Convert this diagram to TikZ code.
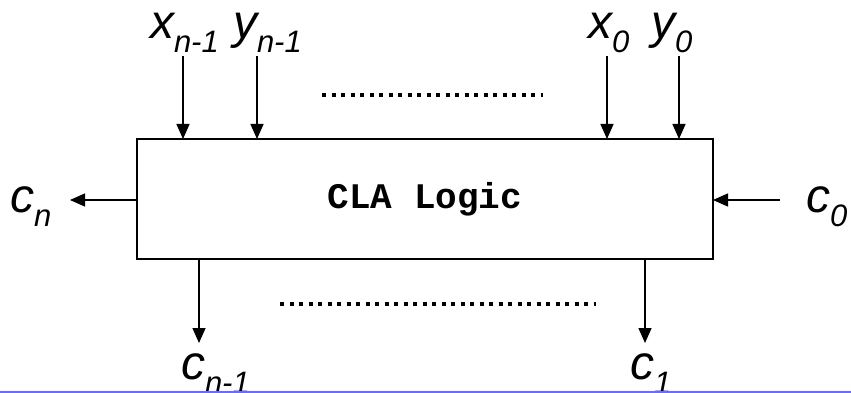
\documentclass[tikz,border=0pt]{standalone}
\usepackage{fontspec}
\setmainfont{Liberation Sans}
\newfontfamily\monofnt{Liberation Mono}
\usetikzlibrary{arrows.meta}
\newcommand\lbl[2]{{\fontsize{48}{48}\selectfont\itshape #1}\raisebox{-14pt}{\fontsize{31}{31}\selectfont\itshape #2}}
\definecolor{rule}{HTML}{6B6BFF}
\tikzset{
  arr/.style={line width=1.4pt,-{Triangle[length=15pt,width=13pt]}},
  boxstyle/.style={draw,line width=2pt,minimum width=576pt,minimum height=120pt,inner sep=0pt,outer sep=0pt},
  lab/.style={anchor=base west,inner sep=0pt,outer sep=0pt},
  dots/.style={line width=4pt,dash pattern=on 4pt off 5.5pt}
}
\begin{document}
\begin{tikzpicture}[x=1pt,y=-1pt]
\useasboundingbox (0,0) rectangle (851,393);
\node[boxstyle] (box) at (425,199) {\monofnt\bfseries\fontsize{36}{36}\selectfont CLA Logic};
% top labels
\node[lab] (lxn) at (150,39) {\lbl{x}{n-1}};
\node[lab] (lyn) at (233,39) {\lbl{y}{n-1}};
\node[lab] (lx0) at (588,39) {\lbl{x}{0}};
\node[lab] (ly0) at (651,39) {\lbl{y}{0}};
% side labels
\node[lab] (lcn) at (10,212) {\lbl{c}{n}};
\node[lab] (lc0) at (806,212) {\lbl{c}{0}};
% bottom labels
\node[lab] (lcn1) at (181,379) {\lbl{c}{n-1}};
\node[lab] (lc1) at (630,379) {\lbl{c}{1}};
% arrow ends
\coordinate (axn) at (183,56);
\coordinate (ayn) at (257,56);
\coordinate (ax0) at (607,56);
\coordinate (ay0) at (679,56);
\coordinate (acn) at (70,200);
\coordinate (ac0) at (780,200);
\coordinate (acn1) at (199,343);
\coordinate (ac1) at (645,343);
\draw[arr] (axn) -- (axn |- box.north);
\draw[arr] (ayn) -- (ayn |- box.north);
\draw[arr] (ax0) -- (ax0 |- box.north);
\draw[arr] (ay0) -- (ay0 |- box.north);
\draw[arr] (box.west |- acn) -- (acn);
\draw[arr] (ac0) -- (box.east |- ac0);
\draw[arr] (acn1 |- box.south) -- (acn1);
\draw[arr] (ac1 |- box.south) -- (ac1);
% dotted lines
\coordinate (d1a) at (322,95);
\coordinate (d1b) at (543,95);
\coordinate (d2a) at (280,304);
\coordinate (d2b) at (596,304);
\draw[dots] (d1a) -- (d1b);
\draw[dots] (d2a) -- (d2b);
% blue rule
\coordinate (ra) at (0,392);
\coordinate (rb) at (851,392);
\draw[rule,line width=1.5pt] (ra) -- (rb);
\end{tikzpicture}
\end{document}
